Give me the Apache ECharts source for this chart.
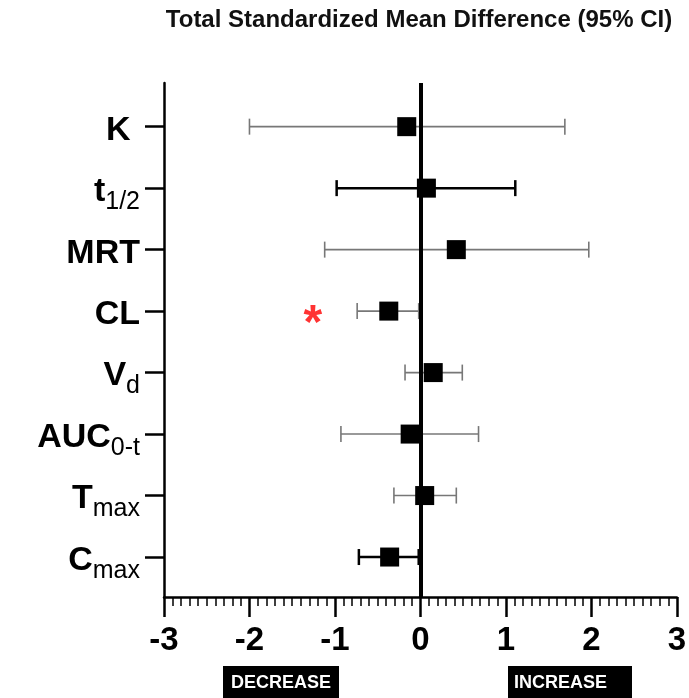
<!DOCTYPE html>
<html>
<head>
<meta charset="utf-8">
<script src="https://cdn.jsdelivr.net/npm/echarts@6/dist/echarts.min.js"></script>
<style>
  html, body { margin: 0; padding: 0; background: #fff; }
  #chart { width: 689px; height: 698px; }
</style>
</head>
<body>
<div id="chart"></div>
<script>
  // rows from top to bottom
  const params = ['K', 't1/2', 'MRT', 'CL', 'Vd', 'AUC0-t', 'Tmax', 'Cmax'];
  const smd = [-0.16, 0.07, 0.42, -0.37, 0.15, -0.12, 0.05, -0.36];
  const ciLow = [-2.0, -0.98, -1.12, -0.74, -0.18, -0.93, -0.31, -0.72];
  const ciHigh = [1.69, 1.11, 1.97, -0.02, 0.49, 0.68, 0.42, -0.02];
  const significant = ['CL'];
  const darkWhiskers = ['t1/2', 'Cmax'];
  const xTicks = [-3, -2, -1, 0, 1, 2, 3];

  const labelText = {
    'K': '{k|K }',
    't1/2': '{m|t}{s|1/2}',
    'MRT': '{k|MRT}',
    'CL': '{k|CL}',
    'Vd': '{m|V}{s|d}',
    'AUC0-t': '{m|AUC}{s|0-t}',
    'Tmax': '{m|T}{s|max}',
    'Cmax': '{m|C}{s|max}',
  };

  const n = params.length;
  const rowPos = params.map((_, i) => n - i);
  const FONT = 'Liberation Sans, Arial, sans-serif';

  const chart = echarts.init(document.getElementById('chart'));

  const barData = params.map((name, i) => ({
    name,
    value: [ciLow[i], ciHigh[i], rowPos[i]],
    dark: darkWhiskers.includes(name),
  }));

  chart.setOption({
    animation: false,
    title: {
      text: 'Total Standardized Mean Difference (95% CI)',
      left: 414,
      top: 3,
      textAlign: 'center',
      textStyle: { fontFamily: FONT, fontSize: 24, fontWeight: 'bold', color: '#111' },
    },
    grid: { left: 164, right: 12, top: 83, bottom: 101 },
    xAxis: {
      type: 'value',
      min: -3,
      max: 3,
      interval: 1,
      axisLine: { onZero: false, lineStyle: { color: '#000', width: 2.5 } },
      axisTick: { show: true, length: 20, lineStyle: { color: '#000', width: 2.5 } },
      minorTick: { show: true, splitNumber: 10, length: 9, lineStyle: { color: '#000', width: 1.5 } },
      splitLine: { show: false },
      axisLabel: {
        margin: 27,
        fontFamily: FONT,
        fontSize: 33,
        fontWeight: 'bold',
        color: '#000',
        customValues: xTicks,
      },
    },
    yAxis: {
      type: 'value',
      min: 0.35,
      max: 8.71,
      axisLine: { show: true, onZero: false, lineStyle: { color: '#000', width: 2.5 } },
      splitLine: { show: false },
      axisTick: { show: true, length: 19, customValues: rowPos, lineStyle: { color: '#000', width: 2.5 } },
      axisLabel: {
        margin: 24,
        customValues: rowPos,
        formatter: (v) => labelText[params[n - Math.round(v)]] || '',
        rich: {
          k: { fontFamily: FONT, fontSize: 34, fontWeight: 'bold', color: '#000', verticalAlign: 'top', padding: [8, 0, 0, 0] },
          m: { fontFamily: FONT, fontSize: 34, fontWeight: 'bold', color: '#000', verticalAlign: 'top', padding: [13, 0, 0, 0] },
          s: { fontFamily: FONT, fontSize: 25, color: '#000', verticalAlign: 'top', padding: [28, 0, 0, 0] },
        },
      },
    },
    graphic: [
      { type: 'rect', shape: { x: 223, y: 666, width: 116, height: 40 }, style: { fill: '#000' } },
      { type: 'text', x: 281, y: 683, style: { text: 'DECREASE', fill: '#fff', font: 'bold 18px ' + FONT, textAlign: 'center', textVerticalAlign: 'middle' } },
      { type: 'rect', shape: { x: 508, y: 666, width: 124, height: 40 }, style: { fill: '#000' } },
      { type: 'text', x: 514, y: 683, style: { text: 'INCREASE', fill: '#fff', font: 'bold 18px ' + FONT, textAlign: 'left', textVerticalAlign: 'middle' } },
    ],
    series: [
      {
        type: 'custom',
        z: 2,
        data: barData,
        renderItem: (p, api) => {
          const y = api.value(2);
          const a = api.coord([api.value(0), y]);
          const b = api.coord([api.value(1), y]);
          const dark = barData[p.dataIndex].dark;
          const style = { stroke: dark ? '#000' : '#777', lineWidth: dark ? 2.5 : 1.6 };
          const h = 8;
          return {
            type: 'group',
            children: [
              { type: 'line', shape: { x1: a[0], y1: a[1], x2: b[0], y2: b[1] }, style },
              { type: 'line', shape: { x1: a[0], y1: a[1] - h, x2: a[0], y2: a[1] + h }, style },
              { type: 'line', shape: { x1: b[0], y1: b[1] - h, x2: b[0], y2: b[1] + h }, style },
            ],
          };
        },
        markLine: {
          silent: true,
          symbol: 'none',
          label: { show: false },
          lineStyle: { color: '#000', width: 4, type: 'solid' },
          data: [{ xAxis: 0 }],
        },
      },
      {
        type: 'scatter',
        z: 4,
        symbol: 'rect',
        symbolSize: 19,
        itemStyle: { color: '#000', opacity: 1 },
        data: smd.map((v, i) => [v, rowPos[i]]),
      },
      {
        type: 'scatter',
        z: 5,
        symbolSize: 0,
        data: significant.map((name) => [-1.26, rowPos[params.indexOf(name)]]),
        label: {
          show: true,
          formatter: '*',
          position: 'inside',
          offset: [0, 14],
          color: '#ff0000',
          fontFamily: FONT,
          fontWeight: 'bold',
          fontSize: 48,
        },
      },
    ],
  });
</script>
</body>
</html>
